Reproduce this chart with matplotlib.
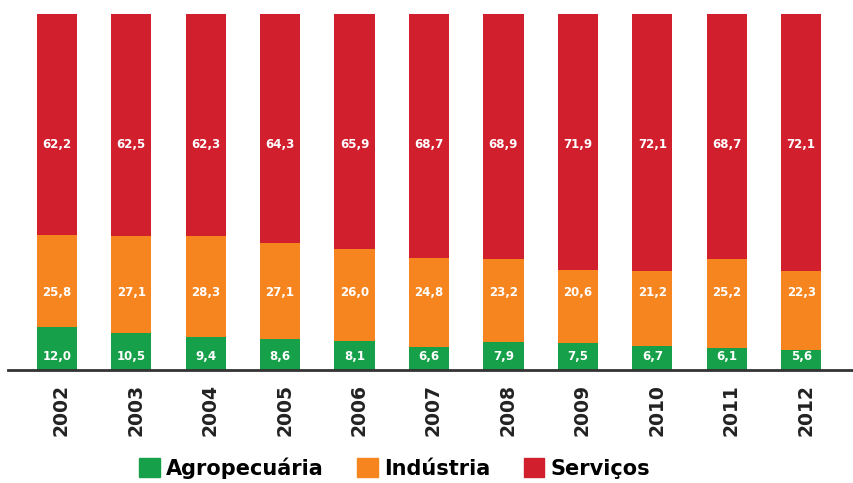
import matplotlib.pyplot as plt
from matplotlib.patches import Patch

years = ["2002", "2003", "2004", "2005", "2006", "2007", "2008", "2009", "2010", "2011", "2012"]
agro = [12.0, 10.5, 9.4, 8.6, 8.1, 6.6, 7.9, 7.5, 6.7, 6.1, 5.6]
industria = [25.8, 27.1, 28.3, 27.1, 26.0, 24.8, 23.2, 20.6, 21.2, 25.2, 22.3]
servicos = [62.2, 62.5, 62.3, 64.3, 65.9, 68.7, 68.9, 71.9, 72.1, 68.7, 72.1]

c_agro = "#17a04a"
c_ind = "#f7851f"
c_serv = "#d21f2e"

fig = plt.figure(figsize=(8.54, 4.83), dpi=100)
ax = fig.add_axes([30 / 854, 113 / 483, 824 / 854, 356 / 483])

x = list(range(len(years)))
w = 0.54
bottom_ind = agro
bottom_serv = [a + b for a, b in zip(agro, industria)]

ax.bar(x, agro, width=w, color=c_agro)
ax.bar(x, industria, width=w, bottom=bottom_ind, color=c_ind)
ax.bar(x, servicos, width=w, bottom=bottom_serv, color=c_serv)

def fmt(v):
    return f"{v:.1f}".replace(".", ",")

for i in x:
    ax.text(i, 3.7, fmt(agro[i]), ha="center", va="center", color="white",
            fontsize=8.5, fontweight="bold")
    ax.text(i, 21.7, fmt(industria[i]), ha="center", va="center", color="white",
            fontsize=8.5, fontweight="bold")
    ax.text(i, 63.4, fmt(servicos[i]), ha="center", va="center", color="white",
            fontsize=8.5, fontweight="bold")

ax.set_ylim(0, 100)
ax.set_xlim(-0.36, 10.71)
ax.set_yticks([])
ax.set_xticks([i + 0.06 for i in x])
ax.set_xticklabels(years, rotation=90, fontsize=13.5, fontweight="bold", color="#222222")
ax.tick_params(axis="x", length=0, pad=10)
for s in ["top", "right", "left"]:
    ax.spines[s].set_visible(False)
ax.spines["bottom"].set_linewidth(2)
ax.spines["bottom"].set_color("#333333")
ax.spines["bottom"].set_bounds(-0.66, 10.71)
ax.spines["bottom"].set_clip_on(False)

handles = [Patch(color=c_agro, label="Agropecuária"),
           Patch(color=c_ind, label="Indústria"),
           Patch(color=c_serv, label="Serviços")]
fig.legend(handles=handles, loc="center", bbox_to_anchor=(0.462, 0.031), ncol=3,
           frameon=False, prop={"size": 15, "weight": "bold"},
           handlelength=1.0, handleheight=1.0, handletextpad=0.3, columnspacing=1.6)

fig.savefig("out.png", dpi=100)
